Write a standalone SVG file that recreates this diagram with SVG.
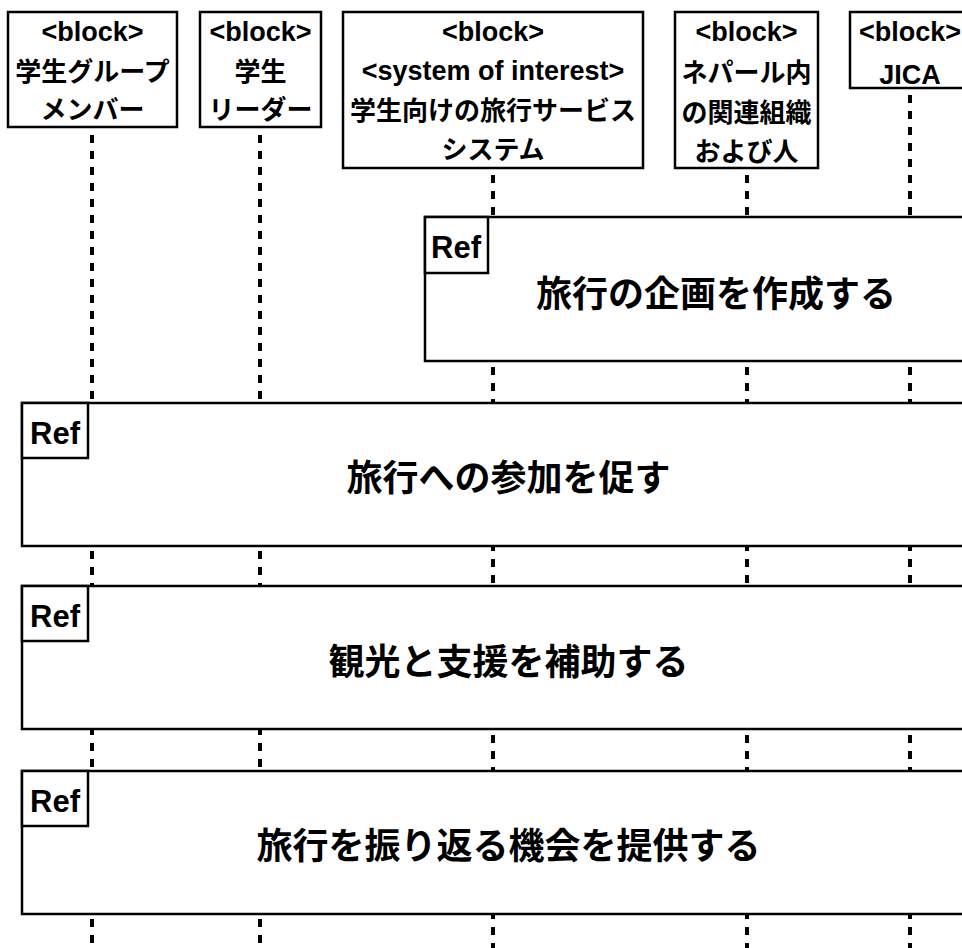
<svg xmlns="http://www.w3.org/2000/svg" width="962" height="948" viewBox="0 0 962 948">
<style>
.box{fill:#fff;stroke:#000;stroke-width:2.5}
.life{stroke:#000;stroke-width:4;stroke-dasharray:8 8;fill:none}
.ht{font-family:"Liberation Sans","Noto Sans CJK JP",sans-serif;font-weight:bold;font-size:26px;text-anchor:middle;fill:#000}
.lt{font-size:27px}
.rt{font-family:"Liberation Sans","Noto Sans CJK JP",sans-serif;font-weight:bold;font-size:31px;text-anchor:middle;fill:#000}
.mt{font-family:"Noto Sans CJK JP",sans-serif;font-weight:bold;font-size:36px;text-anchor:middle;fill:#000}
</style>
<rect width="962" height="948" fill="#fff"/>
<g id="lifelines">
<line class="life" x1="92" y1="135" x2="92" y2="948"/>
<line class="life" x1="260" y1="135" x2="260" y2="948"/>
<line class="life" x1="493" y1="175" x2="493" y2="948"/>
<line class="life" x1="747" y1="175" x2="747" y2="948"/>
<line class="life" x1="910" y1="95" x2="910" y2="948"/>
</g>
<g id="n1">
<rect class="box" x="8" y="12" width="169" height="115"/>
<text class="ht lt" x="92.5" y="41">&lt;block&gt;</text>
<text class="ht" x="92.5" y="81">学生グループ</text>
<text class="ht" x="92.5" y="119">メンバー</text>
</g>
<g id="n2">
<rect class="box" x="200" y="12" width="121" height="115"/>
<text class="ht lt" x="260.5" y="41">&lt;block&gt;</text>
<text class="ht" x="260.5" y="81">学生</text>
<text class="ht" x="260.5" y="119">リーダー</text>
</g>
<g id="n3">
<rect class="box" x="343" y="12" width="300" height="156"/>
<text class="ht lt" x="493" y="41">&lt;block&gt;</text>
<text class="ht lt" x="493" y="80">&lt;system of interest&gt;</text>
<text class="ht" x="493" y="120">学生向けの旅行サービス</text>
<text class="ht" x="493" y="159">システム</text>
</g>
<g id="n4">
<rect class="box" x="675" y="12" width="143" height="156"/>
<text class="ht lt" x="746.5" y="41">&lt;block&gt;</text>
<text class="ht" x="746.5" y="82">ネパール内</text>
<text class="ht" x="746.5" y="122">の関連組織</text>
<text class="ht" x="746.5" y="161">および人</text>
</g>
<g id="n5">
<rect class="box" x="850" y="12" width="120" height="76"/>
<text class="ht lt" x="910" y="41">&lt;block&gt;</text>
<text class="ht lt" x="910" y="84">JICA</text>
</g>
<g id="ref1">
<rect class="box" x="425" y="217" width="582" height="144"/>
<rect class="box" x="425" y="217" width="63" height="56"/>
<text class="rt" x="456" y="258">Ref</text>
<text class="mt" x="716" y="307">旅行の企画を作成する</text>
</g>
<g id="ref2">
<rect class="box" x="22" y="403" width="973" height="143"/>
<rect class="box" x="22" y="403" width="66" height="55"/>
<text class="rt" x="55" y="444">Ref</text>
<text class="mt" x="508.5" y="491">旅行への参加を促す</text>
</g>
<g id="ref3">
<rect class="box" x="22" y="586" width="973" height="143"/>
<rect class="box" x="22" y="586" width="66" height="55"/>
<text class="rt" x="55" y="627">Ref</text>
<text class="mt" x="508.5" y="675">観光と支援を補助する</text>
</g>
<g id="ref4">
<rect class="box" x="22" y="771" width="973" height="143"/>
<rect class="box" x="22" y="771" width="66" height="55"/>
<text class="rt" x="55" y="812">Ref</text>
<text class="mt" x="508.5" y="859">旅行を振り返る機会を提供する</text>
</g>
</svg>
